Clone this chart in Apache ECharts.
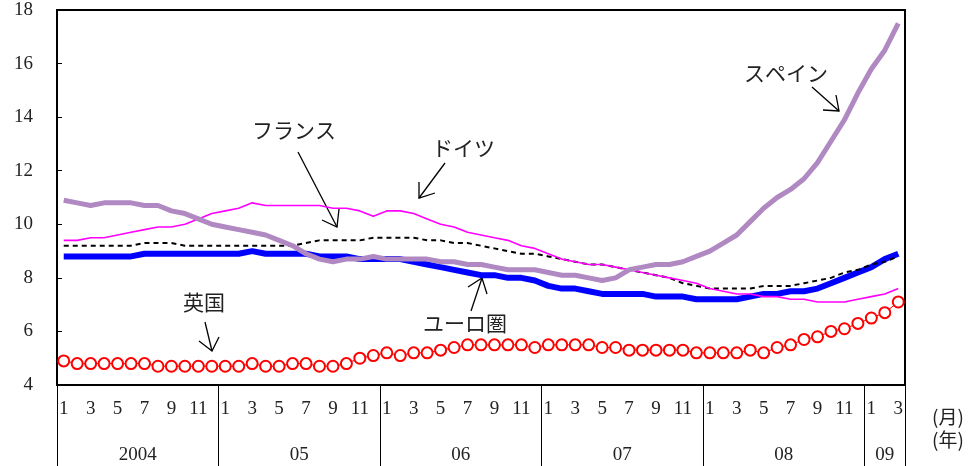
<!DOCTYPE html>
<html>
<head>
<meta charset="utf-8">
<script src="https://cdn.jsdelivr.net/npm/echarts@6/dist/echarts.min.js"></script>
<style>
html,body{margin:0;padding:0;background:#fff;}
#c{width:968px;height:466px;}
</style>
</head>
<body>
<div id="c"></div>
<script>
// ---- data (monthly, Jan 2004 - Mar 2009) ----
const years = ['2004','05','06','07','08','09'];
const yearMonthCounts = [12,12,12,12,12,3];
const yTicks = [4,6,8,10,12,14,16,18];

const euroArea = [8.8,8.8,8.8,8.8,8.8,8.8,8.9,8.9,8.9,8.9,8.9,8.9,
  8.9,8.9,9.0,8.9,8.9,8.9,8.9,8.8,8.8,8.8,8.7,8.7,
  8.7,8.7,8.6,8.5,8.4,8.3,8.2,8.1,8.1,8.0,8.0,7.9,
  7.7,7.6,7.6,7.5,7.4,7.4,7.4,7.4,7.3,7.3,7.3,7.2,
  7.2,7.2,7.2,7.3,7.4,7.4,7.5,7.5,7.6,7.8,8.0,8.2,
  8.4,8.7,8.9];
const germany = [9.4,9.4,9.5,9.5,9.6,9.7,9.8,9.9,9.9,10.0,10.2,10.4,
  10.5,10.6,10.8,10.7,10.7,10.7,10.7,10.7,10.6,10.6,10.5,10.3,
  10.5,10.5,10.4,10.2,10.0,9.9,9.7,9.6,9.5,9.4,9.2,9.1,
  8.9,8.7,8.6,8.5,8.5,8.4,8.3,8.2,8.1,8.0,7.9,7.8,
  7.6,7.5,7.4,7.4,7.3,7.3,7.2,7.2,7.1,7.1,7.1,7.2,
  7.3,7.4,7.6];
const france = [9.2,9.2,9.2,9.2,9.2,9.2,9.3,9.3,9.3,9.2,9.2,9.2,
  9.2,9.2,9.2,9.2,9.2,9.2,9.3,9.4,9.4,9.4,9.4,9.5,
  9.5,9.5,9.5,9.4,9.4,9.3,9.3,9.2,9.1,9.0,8.9,8.9,
  8.8,8.7,8.6,8.5,8.5,8.4,8.3,8.2,8.1,8.0,7.8,7.7,
  7.6,7.6,7.6,7.6,7.7,7.7,7.7,7.8,7.9,8.0,8.2,8.3,
  8.5,8.6,8.8];
const spain = [10.9,10.8,10.7,10.8,10.8,10.8,10.7,10.7,10.5,10.4,10.2,10.0,
  9.9,9.8,9.7,9.6,9.4,9.2,8.9,8.7,8.6,8.7,8.7,8.8,
  8.7,8.7,8.7,8.7,8.6,8.6,8.5,8.5,8.4,8.3,8.3,8.3,
  8.2,8.1,8.1,8.0,7.9,8.0,8.3,8.4,8.5,8.5,8.6,8.8,
  9.0,9.3,9.6,10.1,10.6,11.0,11.3,11.7,12.3,13.1,13.9,14.9,
  15.8,16.5,17.5];
const uk = [4.9,4.8,4.8,4.8,4.8,4.8,4.8,4.7,4.7,4.7,4.7,4.7,
  4.7,4.7,4.8,4.7,4.7,4.8,4.8,4.7,4.7,4.8,5.0,5.1,
  5.2,5.1,5.2,5.2,5.3,5.4,5.5,5.5,5.5,5.5,5.5,5.4,
  5.5,5.5,5.5,5.5,5.4,5.4,5.3,5.3,5.3,5.3,5.3,5.2,
  5.2,5.2,5.2,5.3,5.2,5.4,5.5,5.7,5.8,6.0,6.1,6.3,
  6.5,6.7,7.1];

// categories and year boundaries built from the lists above
const categories = [];
const yearStarts = [];
const yearCenters = [];
let pos = 0;
years.forEach((y, i) => {
  yearStarts.push(pos);
  yearCenters.push(pos + yearMonthCounts[i] / 2);
  for (let m = 1; m <= yearMonthCounts[i]; m++) categories.push(y + '-' + m);
  pos += yearMonthCounts[i];
});
yearStarts.push(pos);

const serif = '"Liberation Serif","DejaVu Serif",serif';
const jp = '"Noto Sans CJK JP",sans-serif';

const chart = echarts.init(document.getElementById('c'), null, {renderer: 'canvas'});

function arrow(x1, y1, x2, y2, w1, w2) {
  return [
    {type: 'line', shape: {x1: x1, y1: y1, x2: x2, y2: y2}, style: {stroke: '#000', lineWidth: 1.3}},
    {type: 'polyline', shape: {points: [w1, [x2, y2], w2]}, style: {stroke: '#000', lineWidth: 1.3, fill: null}}
  ];
}
function label(text, x, y) {
  return {type: 'text', x: x, y: y, style: {text: text, font: '21px ' + jp, fill: '#222', textVerticalAlign: 'middle'}};
}

const option = {
  animation: false,
  backgroundColor: '#fff',
  grid: {left: 57, right: 63, top: 10, bottom: 81, show: true, borderColor: '#000', borderWidth: 2, backgroundColor: 'transparent'},
  xAxis: [
    {
      type: 'category', data: categories, boundaryGap: true,
      axisLine: {show: true, lineStyle: {color: '#000', width: 2}},
      axisTick: {show: false},
      axisLabel: {
        interval: 0, margin: 15, color: '#222', fontFamily: serif, fontSize: 19,
        formatter: function (v) { const m = +v.split('-')[1]; return (m % 2 === 1) ? String(m) : ''; }
      },
      splitLine: {show: false}
    },
    {
      type: 'value', min: 0, max: categories.length, position: 'bottom',
      axisLine: {show: false},
      axisTick: {show: true, customValues: yearStarts, length: 81, lineStyle: {color: '#000', width: 1}},
      axisLabel: {
        customValues: yearCenters, margin: 61, color: '#222', fontFamily: serif, fontSize: 19,
        formatter: function (v) { const i = yearCenters.indexOf(v); return i >= 0 ? years[i] : ''; }
      },
      splitLine: {show: false}
    }
  ],
  yAxis: {
    type: 'value', min: 4, max: 18, interval: 2,
    axisLine: {show: true, lineStyle: {color: '#000', width: 2}},
    axisTick: {show: true, inside: true, length: 5, lineStyle: {color: '#000'}},
    axisLabel: {margin: 24, color: '#222', fontFamily: serif, fontSize: 19},
    splitLine: {show: false}
  },
  series: [
    {name: 'ユーロ圏', type: 'line', data: euroArea, showSymbol: false, lineStyle: {color: '#0000ff', width: 6}, z: 2},
    {name: 'フランス', type: 'line', data: france, showSymbol: false, lineStyle: {color: '#000', width: 2, type: [5, 4]}, z: 3},
    {name: 'ドイツ', type: 'line', data: germany, showSymbol: false, lineStyle: {color: '#ff00ff', width: 1.6}, z: 4},
    {name: 'スペイン', type: 'line', data: spain, showSymbol: false, lineStyle: {color: '#b088c2', width: 5}, z: 5},
    {name: '英国', type: 'line', data: uk, symbol: 'circle', symbolSize: 11, showSymbol: true,
      itemStyle: {color: '#fff', borderColor: '#ff0000', borderWidth: 2},
      lineStyle: {color: '#ff0000', width: 1}, z: 6}
  ],
  graphic: [].concat(
    [label('フランス', 252, 130), label('ドイツ', 432, 148), label('スペイン', 744, 73), label('英国', 183, 302), label('ユーロ圏', 423, 323)],
    arrow(298, 152, 337, 227, [322, 220], [339, 209]),
    arrow(445, 163, 419, 198, [419, 182], [435, 193]),
    arrow(812, 87, 839, 111, [823, 110], [836, 95]),
    arrow(205, 322, 212, 351, [199, 341], [219, 337]),
    arrow(471, 311, 482, 278, [468, 287], [487, 294]),
    [
      {type: 'text', x: 932, y: 417, style: {text: '(月)', font: '19px ' + jp, fill: '#222', textVerticalAlign: 'middle'}},
      {type: 'text', x: 932, y: 440, style: {text: '(年)', font: '19px ' + jp, fill: '#222', textVerticalAlign: 'middle'}}
    ]
  )
};
chart.setOption(option);
</script>
</body>
</html>
